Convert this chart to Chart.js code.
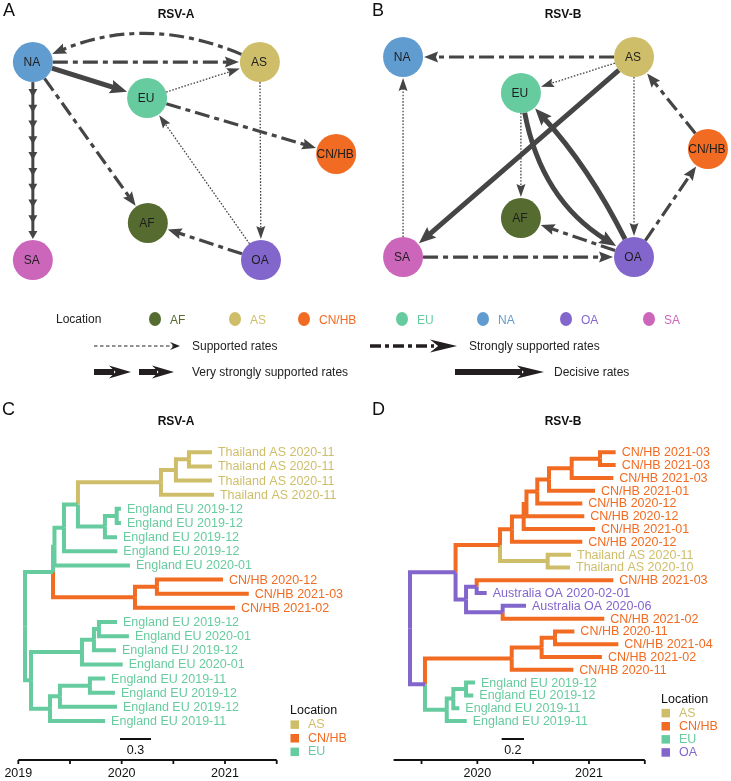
<!DOCTYPE html>
<html>
<head>
<meta charset="utf-8">
<script src="https://cdn.jsdelivr.net/npm/chart.js@4.4.1/dist/chart.umd.min.js"></script>
<style>
  body { margin: 0; background: #fff; width: 731px; height: 781px; position: relative; overflow: hidden; }
  canvas { position: absolute; }
</style>
</head>
<body>
<canvas id="netA" width="365" height="300" style="left:0;top:0"></canvas>
<canvas id="netB" width="366" height="300" style="left:365px;top:0"></canvas>
<canvas id="rateKey" width="731" height="90" style="left:0;top:300px"></canvas>
<canvas id="treeC" width="365" height="391" style="left:0;top:390px"></canvas>
<canvas id="treeD" width="366" height="391" style="left:365px;top:390px"></canvas>
<script>
// ---------- locations ----------
const locationNames = ['AF', 'AS', 'CN/HB', 'EU', 'NA', 'OA', 'SA'];
const locationColors = ['#556B2F', '#CFBE69', '#F26B22', '#66CC9F', '#619CD0', '#8366CC', '#CC66BB'];

// ---------- A: RSV-A transmission network (layout units 0-100) ----------
const nodesA = ['NA', 'AS', 'EU', 'CN/HB', 'AF', 'SA', 'OA'];
const nodeXA = [9.0, 71.2, 40.3, 92.1, 40.5, 9.0, 71.5];
const nodeYA = [20.7, 20.7, 32.7, 51.3, 74.3, 86.7, 86.7];
const edgeFromA = ['AS', 'NA', 'NA', 'NA', 'NA', 'EU', 'EU', 'AS', 'OA', 'OA'];
const edgeToA = ['NA', 'AS', 'EU', 'SA', 'AF', 'AS', 'CN/HB', 'OA', 'EU', 'AF'];
const edgeSupportA = ['strong', 'strong', 'decisive', 'very', 'strong', 'supported', 'strong', 'supported', 'supported', 'strong'];
const edgeBendA = [0.21, 0, 0, 0, 0, 0, 0, 0, 0, 0];

// ---------- B: RSV-B transmission network ----------
const nodesB = ['NA', 'AS', 'EU', 'CN/HB', 'AF', 'SA', 'OA'];
const nodeXB = [10.4, 73.5, 42.6, 93.7, 42.6, 10.4, 73.5];
const nodeYB = [19.0, 19.0, 31.0, 49.7, 72.7, 85.7, 85.7];
const edgeFromB = ['AS', 'AS', 'AS', 'AS', 'CN/HB', 'OA', 'SA', 'SA', 'EU', 'EU', 'OA', 'OA'];
const edgeToB = ['NA', 'EU', 'SA', 'OA', 'AS', 'CN/HB', 'NA', 'OA', 'AF', 'OA', 'EU', 'AF'];
const edgeSupportB = ['strong', 'supported', 'decisive', 'supported', 'strong', 'strong', 'supported', 'strong', 'supported', 'decisive', 'decisive', 'strong'];
const edgeBendB = [0, 0, 0, 0, 0, 0, 0, 0, 0, 0.22, 0.07, 0];

// ---------- C: RSV-A time tree ----------
const tipLabelsC = ['Thailand AS 2020-11', 'Thailand AS 2020-11', 'Thailand AS 2020-11', 'Thailand AS 2020-11',
  'England EU 2019-12', 'England EU 2019-12', 'England EU 2019-12', 'England EU 2019-12', 'England EU 2020-01',
  'CN/HB 2020-12', 'CN/HB 2021-03', 'CN/HB 2021-02',
  'England EU 2019-12', 'England EU 2020-01', 'England EU 2019-12', 'England EU 2020-01',
  'England EU 2019-11', 'England EU 2019-12', 'England EU 2019-12', 'England EU 2019-11'];
const tipLocC = ['AS', 'AS', 'AS', 'AS', 'EU', 'EU', 'EU', 'EU', 'EU', 'CN/HB', 'CN/HB', 'CN/HB',
  'EU', 'EU', 'EU', 'EU', 'EU', 'EU', 'EU', 'EU'];
const tipTimeC = [2020.873, 2020.873, 2020.873, 2020.893, 2019.993, 2019.993, 2019.955, 2019.958, 2020.08,
  2020.98, 2021.23, 2021.096, 2019.955, 2020.07, 2019.945, 2020.01, 2019.84, 2019.935, 2019.955, 2019.84];
const tipParentC = [7, 7, 6, 5, 9, 9, 8, 3, 2, 11, 11, 10, 15, 15, 14, 13, 18, 18, 17, 16];
const nodeTimeC = [2019.065, 2019.336, 2019.35, 2019.442, 2019.577, 2020.38, 2020.525, 2020.651, 2019.838, 2019.952,
  2020.129, 2020.341, 2019.123, 2019.616, 2019.732, 2019.78, 2019.307, 2019.403, 2019.693];
const nodeParentC = [-1, 0, 1, 2, 3, 4, 5, 6, 4, 8, 1, 10, 0, 12, 13, 14, 12, 16, 17];
const nodeLocC = ['EU', 'EU', 'EU', 'EU', 'EU', 'AS', 'AS', 'AS', 'EU', 'EU', 'CN/HB', 'CN/HB',
  'EU', 'EU', 'EU', 'EU', 'EU', 'EU', 'EU'];
const axisTicksC = [2019, 2019.5, 2020, 2020.5, 2021, 2021.5];
const axisLabelsC = ['2019', '', '2020', '', '2021', ''];
const legendLocC = ['AS', 'CN/HB', 'EU'];

// ---------- D: RSV-B time tree ----------
const tipLabelsD = ['CN/HB 2021-03', 'CN/HB 2021-03', 'CN/HB 2021-03', 'CN/HB 2021-01', 'CN/HB 2020-12',
  'CN/HB 2020-12', 'CN/HB 2021-01', 'CN/HB 2020-12', 'Thailand AS 2020-11', 'Thailand AS 2020-10',
  'CN/HB 2021-03', 'Australia OA 2020-02-01', 'Australia OA 2020-06', 'CN/HB 2021-02',
  'CN/HB 2020-11', 'CN/HB 2021-04', 'CN/HB 2021-02', 'CN/HB 2020-11',
  'England EU 2019-12', 'England EU 2019-12', 'England EU 2019-11', 'England EU 2019-11'];
const tipLocD = ['CN/HB', 'CN/HB', 'CN/HB', 'CN/HB', 'CN/HB', 'CN/HB', 'CN/HB', 'CN/HB', 'AS', 'AS',
  'CN/HB', 'OA', 'OA', 'CN/HB', 'CN/HB', 'CN/HB', 'CN/HB', 'CN/HB', 'EU', 'EU', 'EU', 'EU'];
const tipTimeD = [2021.239, 2021.239, 2021.218, 2021.054, 2020.94, 2020.958, 2021.054, 2020.94, 2020.839, 2020.83,
  2021.218, 2020.084, 2020.436, 2021.137, 2020.869, 2021.263, 2021.116, 2020.86,
  2019.979, 2019.964, 2019.839, 2019.905];
const tipParentD = [9, 9, 8, 7, 6, 5, 4, 3, 10, 10, 12, 12, 13, 13, 17, 17, 16, 15, 20, 20, 19, 18];
const nodeTimeD = [2019.397, 2019.805, 2020.203, 2020.31, 2020.415, 2020.44, 2020.537, 2020.642, 2020.845, 2021.099,
  2020.63, 2019.899, 2019.994, 2020.227, 2019.531, 2020.308, 2020.576, 2020.696, 2019.726, 2019.785, 2019.899];
const nodeParentD = [-1, 0, 1, 2, 3, 4, 5, 6, 7, 8, 2, 1, 11, 11, 0, 14, 15, 16, 14, 18, 19];
const nodeLocD = ['OA', 'OA', 'CN/HB', 'CN/HB', 'CN/HB', 'CN/HB', 'CN/HB', 'CN/HB', 'CN/HB', 'CN/HB',
  'AS', 'OA', 'OA', 'OA', 'OA', 'CN/HB', 'CN/HB', 'CN/HB', 'EU', 'EU', 'EU'];
const axisTicksD = [2019.5, 2020, 2020.5, 2021, 2021.5];
const axisLabelsD = ['', '2020', '', '2021', ''];
const legendLocD = ['AS', 'CN/HB', 'EU', 'OA'];

// ════════════ helpers ════════════
const FONT = '"Liberation Sans", Arial, sans-serif';
const EDGE = '#454545';
const INK = '#231f20';
const colorOf = loc => locationColors[locationNames.indexOf(loc)];
const unit = (x, y) => { const l = Math.hypot(x, y); return { x: x / l, y: y / l }; };

const edgeStyles = {
  supported: { w: 1.3, dash: [1.6, 1.6], len: 13, hw: 4.5 },
  strong: { w: 3.2, dash: [15, 5, 5, 5], len: 14, hw: 5.5 },
  decisive: { w: 5, dash: [], len: 17, hw: 7 },
  very: { w: 3, dash: [], len: 8, hw: 4.5 }
};

function arrowHead(ctx, tip, u, len, hw, notch) {
  const px = -u.y, py = u.x;
  const bx = tip.x - u.x * len, by = tip.y - u.y * len;
  ctx.beginPath();
  ctx.moveTo(tip.x, tip.y);
  ctx.lineTo(bx + px * hw, by + py * hw);
  ctx.lineTo(tip.x - u.x * len * (1 - notch), tip.y - u.y * len * (1 - notch));
  ctx.lineTo(bx - px * hw, by - py * hw);
  ctx.closePath();
  ctx.fill();
}

function drawEdge(ctx, a, b, kind, bend, r) {
  const dx = b.x - a.x, dy = b.y - a.y;
  const c = { x: (a.x + b.x) / 2 - dy * bend, y: (a.y + b.y) / 2 + dx * bend };
  const u0 = unit(c.x - a.x, c.y - a.y), u1 = unit(b.x - c.x, b.y - c.y);
  const s = { x: a.x + u0.x * r, y: a.y + u0.y * r };
  const e = { x: b.x - u1.x * (r + 1), y: b.y - u1.y * (r + 1) };
  const st = edgeStyles[kind];
  const se = { x: e.x - u1.x * st.len * 0.7, y: e.y - u1.y * st.len * 0.7 };
  ctx.save();
  ctx.strokeStyle = EDGE; ctx.fillStyle = EDGE;
  ctx.lineWidth = st.w; ctx.setLineDash(st.dash); ctx.lineCap = 'butt';
  ctx.beginPath();
  ctx.moveTo(s.x, s.y);
  if (bend) ctx.quadraticCurveTo(c.x, c.y, se.x, se.y); else ctx.lineTo(se.x, se.y);
  ctx.stroke();
  ctx.setLineDash([]);
  if (kind === 'very') {
    const span = Math.hypot(e.x - s.x, e.y - s.y);
    for (let d = 0; d < span - 8; d += 15.8) arrowHead(ctx, { x: e.x - u1.x * d, y: e.y - u1.y * d }, u1, st.len, st.hw, 0);
  } else {
    arrowHead(ctx, e, u1, st.len, st.hw, 0.15);
  }
  ctx.restore();
}

function panelText(ctx, letter, lx, ly, title, tx, ty) {
  ctx.save();
  ctx.fillStyle = '#111';
  ctx.font = '18px ' + FONT; ctx.textAlign = 'left'; ctx.textBaseline = 'alphabetic';
  ctx.fillText(letter, lx, ly);
  ctx.font = 'bold 12px ' + FONT; ctx.textAlign = 'center'; ctx.textBaseline = 'middle';
  ctx.fillText(title, tx, ty);
  ctx.restore();
}

// ════════════ networks ════════════
function makeNetwork(id, letter, title, names, xs, ys, from, to, support, bend) {
  const netPlugin = {
    id: 'net' + letter,
    beforeDatasetsDraw(chart) {
      const meta = chart.getDatasetMeta(0);
      const pos = n => { const el = meta.data[names.indexOf(n)]; return { x: el.x, y: el.y }; };
      from.forEach((f, i) => drawEdge(chart.ctx, pos(f), pos(to[i]), support[i], bend[i], 20));
    },
    afterDatasetsDraw(chart) {
      const ctx = chart.ctx, meta = chart.getDatasetMeta(0);
      ctx.save();
      ctx.font = '12px ' + FONT; ctx.fillStyle = '#1e1e1e';
      ctx.textAlign = 'center'; ctx.textBaseline = 'middle';
      names.forEach((n, i) => ctx.fillText(n, meta.data[i].x - 1, meta.data[i].y + 1));
      ctx.restore();
      panelText(ctx, letter, letter === 'A' ? 3 : 7, 16, title, letter === 'A' ? 176 : 198, 15);
    }
  };
  return new Chart(document.getElementById(id), {
    type: 'scatter',
    data: {
      datasets: [{
        data: names.map((n, i) => ({ x: xs[i], y: ys[i] })),
        pointRadius: 20, pointHoverRadius: 20, pointBorderWidth: 0,
        pointBackgroundColor: names.map(colorOf), clip: false
      }]
    },
    options: {
      responsive: false, animation: false, devicePixelRatio: 1, events: [],
      layout: { padding: 0, autoPadding: false },
      scales: {
        x: { type: 'linear', display: false, min: 0, max: 100 },
        y: { type: 'linear', display: false, min: 0, max: 100, reverse: true }
      },
      plugins: { legend: { display: false }, tooltip: { enabled: false } }
    },
    plugins: [netPlugin]
  });
}

makeNetwork('netA', 'A', 'RSV-A', nodesA, nodeXA, nodeYA, edgeFromA, edgeToA, edgeSupportA, edgeBendA);
makeNetwork('netB', 'B', 'RSV-B', nodesB, nodeXB, nodeYB, edgeFromB, edgeToB, edgeSupportB, edgeBendB);

// ════════════ rate / location key ════════════
(function drawRateKey() {
  const ctx = document.getElementById('rateKey').getContext('2d');
  ctx.font = '12px ' + FONT; ctx.textBaseline = 'middle'; ctx.textAlign = 'left';
  ctx.fillStyle = '#222';
  ctx.fillText('Location', 56, 20);
  const dotX = [155, 235, 304, 402, 483, 566, 649];
  locationNames.forEach((n, i) => {
    ctx.fillStyle = locationColors[i];
    ctx.beginPath(); ctx.ellipse(dotX[i], 19, 6, 7, 0, 0, Math.PI * 2); ctx.fill();
    ctx.fillText(n, dotX[i] + 15, 21);
  });
  ctx.fillStyle = INK; ctx.strokeStyle = INK;
  // supported
  ctx.lineWidth = 1; ctx.setLineDash([3.5, 2.5]);
  ctx.beginPath(); ctx.moveTo(94, 46); ctx.lineTo(173, 46); ctx.stroke();
  ctx.setLineDash([]);
  arrowHead(ctx, { x: 180, y: 46 }, { x: 1, y: 0 }, 10, 4, 0.35);
  // strongly supported
  ctx.lineWidth = 3.5; ctx.setLineDash([11, 4, 4, 4]);
  ctx.beginPath(); ctx.moveTo(370, 46); ctx.lineTo(434, 46); ctx.stroke();
  ctx.setLineDash([]);
  arrowHead(ctx, { x: 457, y: 46 }, { x: 1, y: 0 }, 27, 6.5, 0.3);
  // very strongly supported
  ctx.lineWidth = 6;
  ctx.beginPath(); ctx.moveTo(94, 72); ctx.lineTo(114, 72); ctx.stroke();
  arrowHead(ctx, { x: 131, y: 72 }, { x: 1, y: 0 }, 22, 6.5, 0.3);
  ctx.beginPath(); ctx.moveTo(139, 72); ctx.lineTo(157, 72); ctx.stroke();
  arrowHead(ctx, { x: 174, y: 72 }, { x: 1, y: 0 }, 22, 6.5, 0.3);
  // decisive
  ctx.beginPath(); ctx.moveTo(455, 72); ctx.lineTo(522, 72); ctx.stroke();
  arrowHead(ctx, { x: 544, y: 72 }, { x: 1, y: 0 }, 27, 6.5, 0.25);
  ctx.fillStyle = '#222';
  ctx.fillText('Supported rates', 192, 47);
  ctx.fillText('Strongly supported rates', 469, 47);
  ctx.fillText('Very strongly supported rates', 192, 73);
  ctx.fillText('Decisive rates', 554, 73);
})();

// ════════════ trees ════════════
function nodeHeights(tipParent, nodeParent) {
  const kids = nodeParent.map(() => []);
  tipParent.forEach((p, i) => kids[p].push({ tip: i }));
  nodeParent.forEach((p, j) => { if (p >= 0) kids[p].push({ node: j }); });
  const ny = [];
  const calc = j => {
    if (ny[j] === undefined) {
      const ys = kids[j].map(k => k.tip !== undefined ? k.tip : calc(k.node));
      ny[j] = ys.reduce((a, b) => a + b, 0) / ys.length;
    }
    return ny[j];
  };
  nodeParent.forEach((p, j) => calc(j));
  return ny;
}

function branchSets(tipTime, tipParent, tipLoc, nodeTime, nodeParent, nodeLoc) {
  const ny = nodeHeights(tipParent, nodeParent);
  const mk = (p, t, y, loc) => ({
    data: [{ x: nodeTime[p], y: ny[p] }, { x: nodeTime[p], y: y }, { x: t, y: y }],
    showLine: true, borderColor: colorOf(loc), borderWidth: 4,
    borderJoinStyle: 'miter', borderCapStyle: 'butt', tension: 0,
    pointRadius: 0, pointHoverRadius: 0, fill: false, clip: false
  });
  const sets = [];
  nodeParent.forEach((p, j) => { if (p >= 0) sets.push(mk(p, nodeTime[j], ny[j], nodeLoc[j])); });
  tipParent.forEach((p, i) => sets.push(mk(p, tipTime[i], i, tipLoc[i])));
  return sets;
}

function makeTree(id, cfg) {
  const treePlugin = {
    id: 'tree' + cfg.letter,
    afterDatasetsDraw(chart) {
      const ctx = chart.ctx, x = chart.scales.x, y = chart.scales.y;
      ctx.save();
      ctx.font = '12.5px ' + FONT; ctx.textBaseline = 'middle'; ctx.textAlign = 'left';
      cfg.labels.forEach((lab, i) => {
        ctx.fillStyle = colorOf(cfg.locs[i]);
        ctx.fillText(lab, x.getPixelForValue(cfg.times[i]) + 6, y.getPixelForValue(i) + 0.5);
      });
      // time axis
      const ay = 370;
      ctx.strokeStyle = '#111'; ctx.lineWidth = 1.8;
      ctx.beginPath();
      ctx.moveTo(x.getPixelForValue(cfg.range[0]), ay); ctx.lineTo(x.getPixelForValue(cfg.range[1]), ay);
      ctx.stroke();
      ctx.fillStyle = '#111'; ctx.textAlign = 'center';
      cfg.ticks.forEach((t, i) => {
        const px = x.getPixelForValue(t);
        ctx.beginPath(); ctx.moveTo(px, ay); ctx.lineTo(px, ay + 4); ctx.stroke();
        if (cfg.tickLabels[i]) ctx.fillText(cfg.tickLabels[i], px, ay + 13.5);
      });
      // scale bar
      const b0 = x.getPixelForValue(cfg.bar[0]), b1 = x.getPixelForValue(cfg.bar[0] + cfg.bar[1]);
      ctx.lineWidth = 2;
      ctx.beginPath(); ctx.moveTo(b0, cfg.barY); ctx.lineTo(b1, cfg.barY); ctx.stroke();
      ctx.fillText(String(cfg.bar[1]), (b0 + b1) / 2, cfg.barY + 12);
      // location legend
      ctx.textAlign = 'left';
      ctx.fillStyle = '#111';
      ctx.fillText('Location', cfg.legX, cfg.legY);
      cfg.legend.forEach((loc, i) => {
        const cy = cfg.legY + cfg.legStep * (i + 1);
        ctx.fillStyle = colorOf(loc);
        ctx.fillRect(cfg.legX + 0.5, cy - 4.2, 8.5, 8.5);
        ctx.fillText(loc, cfg.legX + 18, cy);
      });
      ctx.restore();
      panelText(ctx, cfg.letter, cfg.letter === 'C' ? 2 : 7, 25, cfg.title, cfg.letter === 'C' ? 176 : 198, 32);
    }
  };
  return new Chart(document.getElementById(id), {
    type: 'scatter',
    data: { datasets: branchSets(cfg.times, cfg.tipParent, cfg.locs, cfg.nodeTime, cfg.nodeParent, cfg.nodeLoc) },
    options: {
      responsive: false, animation: false, devicePixelRatio: 1, events: [],
      layout: { padding: cfg.padding, autoPadding: false },
      scales: {
        x: { type: 'linear', display: false, min: cfg.range[0], max: cfg.range[1] },
        y: { type: 'linear', display: false, min: 0, max: cfg.labels.length - 1, reverse: true }
      },
      plugins: { legend: { display: false }, tooltip: { enabled: false } }
    },
    plugins: [treePlugin]
  });
}

makeTree('treeC', {
  letter: 'C', title: 'RSV-A', labels: tipLabelsC, locs: tipLocC, times: tipTimeC, tipParent: tipParentC,
  nodeTime: nodeTimeC, nodeParent: nodeParentC, nodeLoc: nodeLocC,
  range: [2019, 2021.5], ticks: axisTicksC, tickLabels: axisLabelsC,
  bar: [2019.984, 0.3], barY: 349, legend: legendLocC, legX: 290, legY: 321, legStep: 13.6,
  padding: { left: 18.3, right: 88.3, top: 62.3, bottom: 60 }
});
makeTree('treeD', {
  letter: 'D', title: 'RSV-B', labels: tipLabelsD, locs: tipLocD, times: tipTimeD, tipParent: tipParentD,
  nodeTime: nodeTimeD, nodeParent: nodeParentD, nodeLoc: nodeLocD,
  range: [2019.25, 2021.5], ticks: axisTicksD, tickLabels: axisLabelsD,
  bar: [2020.218, 0.2], barY: 349, legend: legendLocD, legX: 296, legY: 310, legStep: 13.1,
  padding: { left: 28.6, right: 86.2, top: 62.3, bottom: 60 }
});
</script>
</body>
</html>
